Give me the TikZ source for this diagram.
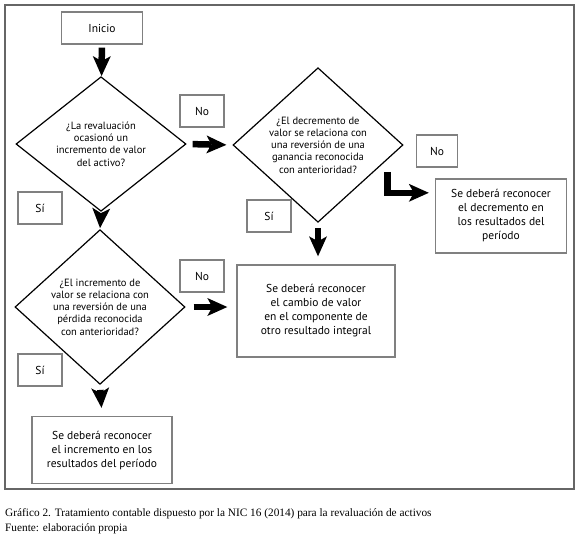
\documentclass[tikz,border=0pt]{standalone}
\usepackage{fontspec}
\usepackage{tikz}
\usetikzlibrary{arrows.meta,shapes.geometric,calc}
\newfontfamily\diagfont{PT Sans}
\newfontfamily\capfont{Liberation Serif}
\definecolor{boxgray}{gray}{0.5}
\tikzset{
	box/.style={draw=boxgray, line width=1.4pt, inner sep=0pt, align=center, font=\diagfont\fontsize{11.5}{14}\selectfont},
	tag/.style={box, minimum width=44pt, minimum height=32pt},
	question/.style={diamond, draw=black, line width=1.2pt, inner sep=0pt, minimum width=170pt, minimum height=127pt, align=center, font=\diagfont\fontsize{10.5}{12.3}\selectfont},
	bigarrow/.style={line width=6.5pt, -{Stealth[length=20pt,width=18pt,inset=5pt,line width=0pt]}},
	capline/.style={anchor=base west, inner sep=0pt, font=\capfont\fontsize{11.3}{13}\selectfont},
}

\begin{document}
\begin{tikzpicture}[x=1pt,y=-1pt]
				\useasboundingbox (0,0) rectangle (580,539);
				\draw[draw=boxgray!80!black, line width=2pt] (5,5) rectangle (574,489);
				
				\node[box, minimum width=81pt, minimum height=32pt] (inicio) at (102,28) {Inicio};
				
				\node[question] (q1) at (101,144) {¿La revaluación\\ocasionó un\\incremento de valor\\del activo?};
				\node[question] (q2) at (318,145) {¿El decremento de\\valor se relaciona con\\una reversión de una\\ganancia reconocida\\con anterioridad?};
				\node[question] (q3) at (100,307) {¿El incremento de\\valor se relaciona con\\una reversión de una\\pérdida reconocida\\con anterioridad?};
				
				\node[tag] (no1) at (202,111) {No};
				\node[tag] (si1) at (40,208) {Sí};
				\node[tag, minimum width=41pt] (no2) at (437,151) {No};
				\node[tag] (si2) at (269,216) {Sí};
				\node[tag] (no3) at (202,276) {No};
				\node[tag] (si3) at (40,370) {Sí};
				
				\node[box, minimum width=131pt, minimum height=74pt] (decremento) at (501,216) {Se deberá reconocer\\el decremento en\\los resultados del\\período};
				\node[box, minimum width=158pt, minimum height=92pt] (cambio) at (316,311) {Se deberá reconocer\\el cambio de valor\\en el componente de\\otro resultado integral};
				\node[box, minimum width=140pt, minimum height=67pt] (incremento) at (102,450) {Se deberá reconocer\\el incremento en los\\resultados del período};
				
				\draw[bigarrow, shorten <=3pt, shorten >=0.5pt] (inicio) -- (q1);
				\draw[bigarrow, shorten <=6pt, shorten >=6pt] (q1.east) -- (q2.west);
				\draw[bigarrow, shorten <=3pt, shorten >=1pt] (q1.south) -- (q3.north);
				\draw[bigarrow, shorten <=5pt, shorten >=8pt] (q3.south) -- (incremento.north);
				\draw[bigarrow, shorten <=8pt, shorten >=9pt] (q3.east) -- (q3.east -| cambio.west);
				\draw[bigarrow, shorten <=5pt, shorten >=8pt] (q2.south) -- (q2.south |- cambio.north);
				\coordinate (nobend) at ($(q2.east)!0.19!(q2.south)+(0,12)$);
				\draw[bigarrow, shorten >=6pt] (nobend) |- ($(decremento.north west)+(0,14.5)$);
				
				\node[capline] (caption) at (5,516) {Gráfico 2. Tratamiento contable dispuesto por la NIC 16 (2014) para la revaluación de activos};
				\node[capline] (fuente) at (5,531) {Fuente: elaboración propia};
\end{tikzpicture}
\end{document}
